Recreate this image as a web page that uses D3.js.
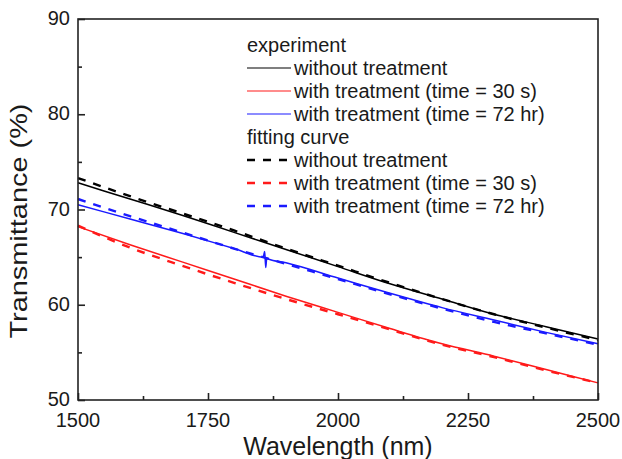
<!DOCTYPE html>
<html>
<head>
<meta charset="utf-8">
<script src="https://cdn.jsdelivr.net/npm/d3@7"></script>
<style>
  body { margin: 0; background: #fff; }
  text { font-family: 'Liberation Sans', Arial, sans-serif; fill: #1a1a1a; }
</style>
</head>
<body>
<div id="chart"></div>
<script>
// wavelength grid (nm)
const wavelength = [1500, 1600, 1700, 1800, 1900, 2000, 2100, 2200, 2300, 2400, 2500];

// measured transmittance (%)
const expNone = [72.8, 71.1, 69.4, 67.6, 65.8, 64.0, 62.2, 60.6, 59.0, 57.7, 56.4];
const expRed  = [68.2, 66.3, 64.5, 62.7, 60.9, 59.2, 57.5, 55.9, 54.6, 53.2, 51.8];
// blue curve has one spike near 1860 nm
const expBlueX = [1500, 1600, 1700, 1800, 1856, 1859, 1861, 1863, 1866, 1900, 2000, 2100, 2200, 2300, 2400, 2500];
const expBlue  = [70.5, 69.0, 67.5, 65.9, 65.0, 65.6, 63.9, 64.9, 64.8, 64.4, 62.8, 61.2, 59.7, 58.4, 57.1, 55.9];

// fitting curves (%)
const fitNone = [73.3, 71.4, 69.6, 67.8, 65.9, 64.1, 62.3, 60.6, 59.0, 57.6, 56.3];
const fitRed  = [68.3, 66.0, 64.1, 62.3, 60.6, 59.0, 57.4, 55.8, 54.5, 53.1, 51.8];
const fitBlue = [71.1, 69.3, 67.6, 65.9, 64.3, 62.7, 61.1, 59.6, 58.2, 57.0, 55.8];

const xMajor = [1500, 1750, 2000, 2250, 2500];
const xMinor = [1625, 1875, 2125, 2375];
const yMajor = [50, 60, 70, 80, 90];
const yMinor = [55, 65, 75, 85];

const legendItems = [
  { label: 'experiment', head: true },
  { label: 'without treatment', color: '#000', dash: false },
  { label: 'with treatment (time = 30 s)', color: '#ff1a1a', dash: false },
  { label: 'with treatment (time = 72 hr)', color: '#1a1aff', dash: false },
  { label: 'fitting curve', head: true },
  { label: 'without treatment', color: '#000', dash: true },
  { label: 'with treatment (time = 30 s)', color: '#ff1a1a', dash: true },
  { label: 'with treatment (time = 72 hr)', color: '#1a1aff', dash: true }
];

const width = 622;
const height = 459;
const plotLeft = 78, plotRight = 598, plotTop = 19, plotBottom = 400;

const svg = d3.select('#chart')
  .append('svg')
  .attr('width', width)
  .attr('height', height)

const xScale = d3.scaleLinear().domain([1500, 2500]).range([plotLeft, plotRight]);
const yScale = d3.scaleLinear().domain([50, 90]).range([plotBottom, plotTop]);

const line = d3.line()
  .x(d => xScale(d[0]))
  .y(d => yScale(d[1]))
  .curve(d3.curveMonotoneX)

const pair = (xs, ys) => xs.map((x, i) => [x, ys[i]]);

// experimental lines
const expSeries = [
  { pts: pair(wavelength, expNone), color: '#000' },
  { pts: pair(expBlueX, expBlue), color: '#1a1aff' },
  { pts: pair(wavelength, expRed), color: '#ff1a1a' }
];
svg.selectAll('.exp')
   .data(expSeries)
   .enter()
   .append('path')
   .attr('class', 'exp')
   .attr('d', d => line(d.pts))
   .attr('fill', 'none')
   .attr('stroke', d => d.color)
   .attr('stroke-width', 1.5)

// fitting curves
const fitSeries = [
  { pts: pair(wavelength, fitNone), color: '#000' },
  { pts: pair(wavelength, fitBlue), color: '#1a1aff' },
  { pts: pair(wavelength, fitRed), color: '#ff1a1a' }
];
svg.selectAll('.fit')
   .data(fitSeries)
   .enter()
   .append('path')
   .attr('class', 'fit')
   .attr('d', d => line(d.pts))
   .attr('fill', 'none')
   .attr('stroke', d => d.color)
   .attr('stroke-width', 2.4)
   .attr('stroke-dasharray', '8,8')

// frame
svg.append('rect')
   .attr('x', plotLeft)
   .attr('y', plotTop)
   .attr('width', plotRight - plotLeft)
   .attr('height', plotBottom - plotTop)
   .attr('fill', 'none')
   .attr('stroke', '#222')
   .attr('stroke-width', 1.6)

// axes, ticks pointing inward
const xAxis = d3.axisTop(xScale).tickValues(xMajor).tickSize(7).tickFormat('');
const xAxisMinor = d3.axisTop(xScale).tickValues(xMinor).tickSize(4).tickFormat('');
const yAxis = d3.axisRight(yScale).tickValues(yMajor).tickSize(7).tickFormat('');
const yAxisMinor = d3.axisRight(yScale).tickValues(yMinor).tickSize(4).tickFormat('');

[[xAxis, 'translate(0,' + plotBottom + ')'], [xAxisMinor, 'translate(0,' + plotBottom + ')'],
 [yAxis, 'translate(' + plotLeft + ',0)'], [yAxisMinor, 'translate(' + plotLeft + ',0)']].forEach(([ax, tr]) => {
  const g = svg.append('g').attr('transform', tr).call(ax);
  g.select('.domain').remove();
  g.selectAll('line').attr('stroke', '#222').attr('stroke-width', 1.6);
});

// tick labels
svg.selectAll('.xlab')
   .data(xMajor)
   .enter()
   .append('text')
   .attr('class', 'xlab')
   .attr('x', d => xScale(d))
   .attr('y', plotBottom + 27)
   .attr('text-anchor', 'middle')
   .style('font-size', '20px')
   .text(d => d)

svg.selectAll('.ylab')
   .data(yMajor)
   .enter()
   .append('text')
   .attr('class', 'ylab')
   .attr('x', plotLeft - 8)
   .attr('y', d => yScale(d) + 6)
   .attr('text-anchor', 'end')
   .style('font-size', '20px')
   .text(d => d)

// axis titles
svg.append('text')
   .attr('x', (plotLeft + plotRight) / 2)
   .attr('y', 455)
   .attr('text-anchor', 'middle')
   .style('font-size', '25px')
   .text('Wavelength (nm)')

svg.append('text')
   .attr('transform', 'translate(27,221) rotate(-90)')
   .attr('text-anchor', 'middle')
   .attr('textLength', 235)
   .attr('lengthAdjust', 'spacingAndGlyphs')
   .style('font-size', '24px')
   .text('Transmittance (%)')

// legend
const legend = svg.append('g').attr('transform', 'translate(245,52)');
legendItems.forEach((item, i) => {
  const y = i * 23;
  if (item.head) {
    legend.append('text')
          .attr('x', 2)
          .attr('y', y)
          .style('font-size', '20px')
          .text(item.label)
  } else {
    legend.append('line')
          .attr('x1', 2).attr('x2', 46)
          .attr('y1', y - 7).attr('y2', y - 7)
          .attr('stroke', item.color)
          .attr('stroke-width', item.dash ? 2.4 : 1.2)
          .attr('stroke-dasharray', item.dash ? '8,8' : null)
    legend.append('text')
          .attr('x', 49)
          .attr('y', y)
          .style('font-size', '20px')
          .text(item.label)
  }
});
</script>
</body>
</html>
